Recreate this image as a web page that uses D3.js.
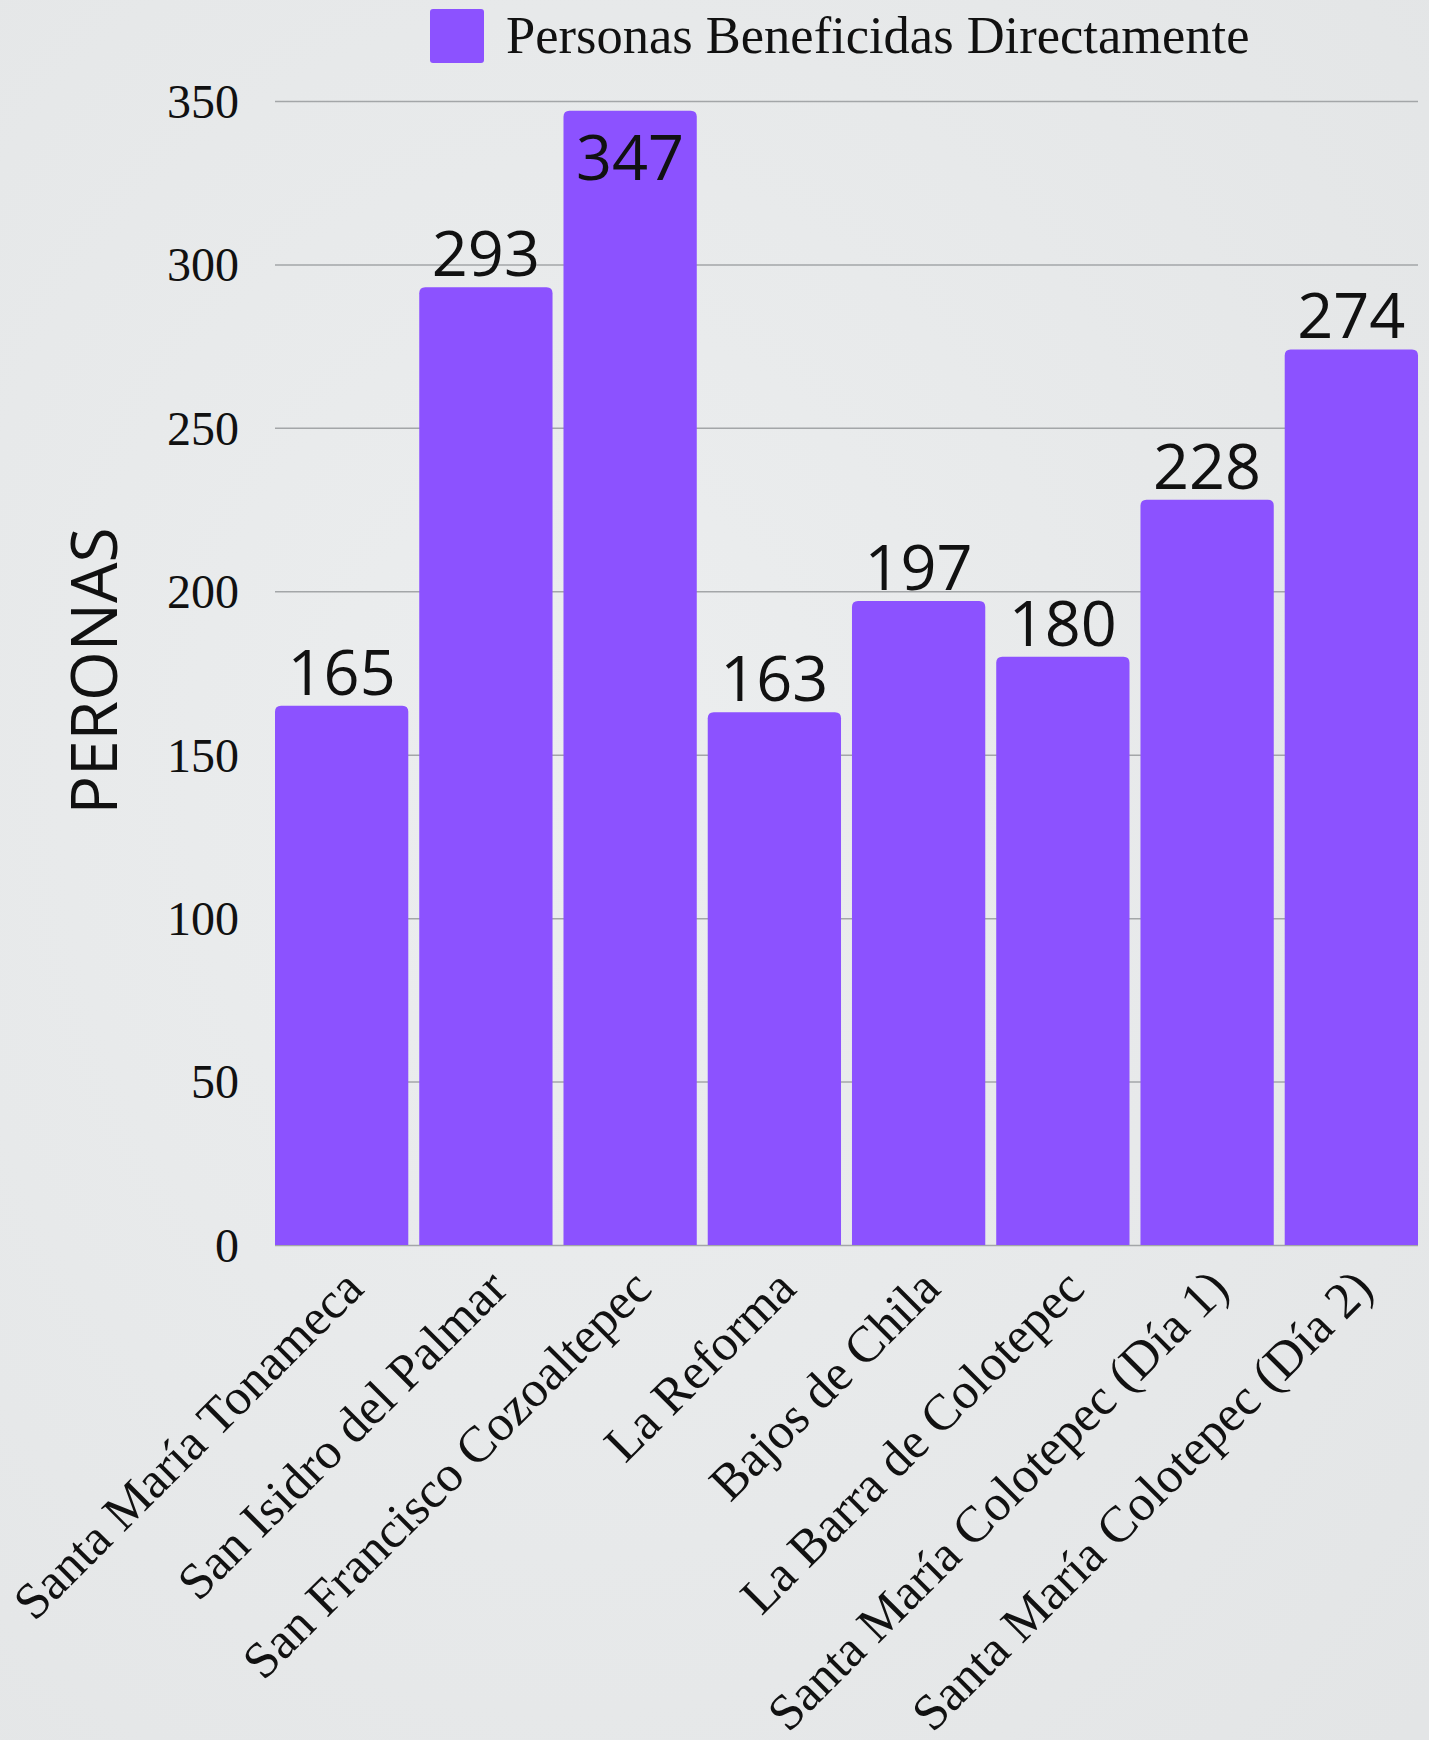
<!DOCTYPE html>
<html>
<head>
<meta charset="utf-8">
<script src="https://cdn.jsdelivr.net/npm/d3@7"></script>
<style>
  body { margin: 0; background: #e9ebec; }
  svg { display: block; }
</style>
</head>
<body>
<svg width="1429" height="1740"></svg>
<script>
// data
var categories = ["Santa María Tonameca", "San Isidro del Palmar", "San Francisco Cozoaltepec",
                  "La Reforma", "Bajos de Chila", "La Barra de Colotepec",
                  "Santa María Colotepec (Día 1)", "Santa María Colotepec (Día 2)"];
var personas = [165, 293, 347, 163, 197, 180, 228, 274];
var yTicks = [0, 50, 100, 150, 200, 250, 300, 350];
var seriesName = "Personas Beneficidas Directamente";
var yTitle = "PERONAS";

var barColor = "#8c52ff",
    gridColor = "#a3a6a8";

var svg = d3.select("svg"),
    margin = {top: 101, right: 11, bottom: 495, left: 275},
    width = +svg.attr("width") - margin.left - margin.right,
    height = +svg.attr("height") - margin.top - margin.bottom;

// background with a soft variation
var defs = svg.append("defs");
var grad = defs.append("radialGradient").attr("id", "bg").attr("cx", "40%").attr("cy", "45%").attr("r", "80%");
grad.append("stop").attr("offset", "0%").attr("stop-color", "#eceeef");
grad.append("stop").attr("offset", "100%").attr("stop-color", "#e3e5e6");
svg.append("rect").attr("width", 1429).attr("height", 1740).attr("fill", "url(#bg)");

var x = d3.scaleBand().domain(categories).range([0, width]).paddingInner(0.076).paddingOuter(0),
    y = d3.scaleLinear().domain([0, 350]).range([height, 0]);

var g = svg.append("g")
    .attr("transform", "translate(" + margin.left + "," + margin.top + ")");

// grid lines
g.append("g")
    .attr("class", "grid")
    .call(d3.axisLeft(y).tickValues(yTicks).tickSize(-width).tickFormat(""))
    .call(function(s) {
        s.select(".domain").remove();
        s.selectAll(".tick line").attr("stroke", gridColor).attr("stroke-width", 1.5);
    });

// y tick labels
g.append("g")
    .attr("class", "axis axis--y")
    .call(d3.axisLeft(y).tickValues(yTicks).tickSize(0).tickPadding(36))
    .call(function(s) {
        s.select(".domain").remove();
        s.selectAll("text")
            .attr("fill", "#111")
            .attr("font-family", "'Liberation Serif', serif")
            .attr("font-size", 48)
            .attr("dy", "0.34em");
    });

// bars with rounded top corners
var r = 6;
function barPath(d, i) {
    var x0 = x(categories[i]), w = x.bandwidth(), y0 = y(d), y1 = y(0);
    return "M" + x0 + "," + y1 +
        "V" + (y0 + r) +
        "Q" + x0 + "," + y0 + " " + (x0 + r) + "," + y0 +
        "H" + (x0 + w - r) +
        "Q" + (x0 + w) + "," + y0 + " " + (x0 + w) + "," + (y0 + r) +
        "V" + y1 + "Z";
}
g.selectAll(".bar")
    .data(personas)
    .enter().append("path")
    .attr("class", "bar")
    .attr("fill", barColor)
    .attr("d", barPath);

// value labels
var labelSize = 63, labelGap = 11;
g.selectAll(".value")
    .data(personas)
    .enter().append("text")
    .attr("class", "value")
    .attr("x", function(d, i) { return x(categories[i]) + x.bandwidth() / 2; })
    .attr("y", function(d) {
        var top = y(d) - labelGap - 46;
        // no room above the plot: put it inside the bar
        return top < y(350) - 20 ? y(d) + 69 : y(d) - labelGap;
    })
    .attr("text-anchor", "middle")
    .attr("fill", "#111")
    .attr("font-family", "'Open Sans', sans-serif")
    .attr("font-size", labelSize)
    .text(function(d) { return d; });

// x category labels, rotated
g.selectAll(".cat")
    .data(categories)
    .enter().append("text")
    .attr("class", "cat")
    .attr("transform", function(d) {
        return "translate(" + (x(d) + x.bandwidth() / 2 + 24) + "," + (height + 46) + ") rotate(-45)";
    })
    .attr("text-anchor", "end")
    .attr("fill", "#111")
    .attr("font-family", "'Liberation Serif', serif")
    .attr("font-size", 51)
    .text(function(d) { return d; });

// y axis title
svg.append("text")
    .attr("transform", "translate(94,671) rotate(-90)")
    .attr("text-anchor", "middle")
    .attr("dy", "0.36em")
    .attr("fill", "#111")
    .attr("font-family", "'Open Sans', sans-serif")
    .attr("font-size", 64)
    .text(yTitle);

// legend
var legend = svg.append("g").attr("class", "legend");
legend.append("rect")
    .attr("x", 430).attr("y", 9)
    .attr("width", 54).attr("height", 54)
    .attr("rx", 3)
    .attr("fill", barColor);
legend.append("text")
    .attr("x", 506).attr("y", 53)
    .attr("fill", "#111")
    .attr("font-family", "'Liberation Serif', serif")
    .attr("font-size", 52.5)
    .text(seriesName);
</script>
</body>
</html>
